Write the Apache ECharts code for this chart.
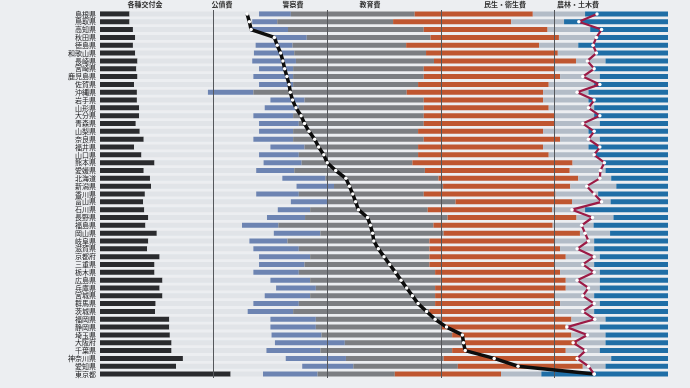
<!DOCTYPE html>
<html><head><meta charset="utf-8">
<script src="https://cdn.jsdelivr.net/npm/echarts@6/dist/echarts.min.js"></script>
<style>html,body{margin:0;padding:0;background:#eceef1;}#c{width:690px;height:388px;}</style>
</head><body><div id="c"></div>
<script>
const prefectures = ["島根県","鳥取県","高知県","秋田県","徳島県","和歌山県","長崎県","宮崎県","鹿児島県","佐賀県","沖縄県","岩手県","山形県","大分県","青森県","山梨県","奈良県","福井県","山口県","熊本県","愛媛県","北海道","新潟県","香川県","富山県","石川県","長野県","福島県","岡山県","岐阜県","滋賀県","京都府","三重県","栃木県","広島県","兵庫県","宮城県","群馬県","茨城県","福岡県","静岡県","埼玉県","大阪府","千葉県","神奈川県","愛知県","東京都"];
const headers = ["各種交付金","公債費","警察費","教育費","民生・衛生費","農林・土木費"];
const kofukin  = [5.2,5.2,5.8,6.2,5.8,6.2,6.6,6.4,6.6,6,6.5,6.5,6.9,6.9,6.3,7,7.7,6,7.3,9.6,7.7,8.8,9,7.9,7.6,7.8,8.5,8,10,8.5,8.3,10.5,9.6,9.6,11,10.5,11,9.8,9.7,12.2,12.2,12.3,12.6,12.6,14.6,13.4,23];
const kosaihi  = [22.8,21.6,20.7,24.5,21.6,20.9,20.2,21.6,20.4,22,12.5,23.5,22.1,20.1,21.7,21,19.3,24,20.7,19.2,19.8,23.3,25.6,19.6,26,23.5,20.9,17,20.6,17.8,18.7,17.5,18.4,17.4,19,20.5,18,17.2,16.3,17.8,17.8,17.9,18.2,16.7,18.1,22.2,5.7];
const keisatsu = [5.6,4.4,6.6,5.7,6.5,7.1,7.7,6,7,6,8,6,6,7,7,6,7,6,7,6.7,6.7,7.6,6.6,7.5,6.4,5.7,6.7,6.4,8.2,6.7,8,9,8,8,7,7,8,8,8,8,8,8.8,12.3,9.5,10.6,9,9.6];
const kyoiku   = [21.8,20.4,23.9,21.8,20,23.2,24.3,23,23,22,27,21,22,23,22,22,23,20,21,19.5,23,19.9,19.2,22,22.6,20.7,25.1,27.3,21.7,25,23,21,22,24,23,21,22,24,24,22,22,23,20.9,23.2,17.2,18.4,13.6];
const minsei   = [20.8,20.8,21.8,22.6,23.4,23.2,25,23,24,23,24,21,22,23,23,22,24,22,23,28.2,25.5,24.6,22.4,23.2,20.5,21.9,22.7,21,24,22,23,24,22,22,22,23,21,22,22,23,22,21,20,20,23.5,22,18.7];
const doboku   = [9.2,9.3,7.5,6.6,6.9,6.8,5.2,7,7,8,8,8,8,7,8,8,7,8,8,5.4,6.3,5.8,8.1,7.5,6.8,5.8,6.5,7.2,5.3,7,6,6,7,7,6,6,7,7,7,6,6,6,5,6,6,4,7.1];
const sonota   = [14.6,18.3,13.7,12.6,15.8,12.6,11,13,12,13,14,14,13,13,12,14,12,14,13,11.4,11,10,9.1,12.3,10.1,14.6,9.6,13.1,10.2,13,13,12,13,12,12,12,13,12,13,11,12,11,11,12,10,11,22.3];
const lineBlack = [25.9,26.3,26.6,30.7,31.2,31.8,32.2,32.5,32.9,33.3,33.5,33.9,34.5,35.4,36,36.8,37.8,38.5,39.4,40,41.5,43.3,43.9,44.5,45,45.5,47.1,47.6,48,48.2,49,50,51,52,53,54,55,56,57.5,59,61,63.8,64,64.3,69.4,73.6,87];
const lineRed   = [87.5,84.3,88.3,87.4,86.8,87.4,85.8,87,85,88,84,87,86,88,85,87,86,88,87,88.8,88.1,88,85.7,87,88.3,83.1,86.7,84.8,85.4,86,84,87,85,87,84,86,85,87,85,87.1,82.2,85.8,83.3,85.5,84,86,87];
const gridTicks = [20,40,60,80];

const chart = echarts.init(document.getElementById('c'), null, {renderer:'canvas'});
const segs = [
  [headers[0], kofukin,  '#2a2b2e'],
  [headers[1], kosaihi,  '#e1e4e8'],
  [headers[2], keisatsu, '#6d84b2'],
  [headers[3], kyoiku,   '#7c7e82'],
  [headers[4], minsei,   '#bf5630'],
  [headers[5], doboku,   '#b3bcc7'],
  ['その他',   sonota,   '#1f6ea6']
];
const series = segs.map((s,i)=>({
  name:s[0], type:'bar', stack:'t', data:s[1], barWidth:5,
  itemStyle:{color:s[2]}, silent:true, animation:false,
  markLine: i===6 ? {silent:true, symbol:'none', label:{show:false},
    lineStyle:{color:'#55575b', width:1, type:'solid'},
    data: gridTicks.map(v=>({xAxis:v}))} : undefined
}));
series.push({type:'line', data:lineBlack, z:10, animation:false,
  lineStyle:{color:'#0d0d0d', width:3.5}, symbol:'circle', symbolSize:3.5,
  itemStyle:{color:'#ffffff', borderWidth:0}, showAllSymbol:true});
series.push({type:'line', data:lineRed, z:11, animation:false,
  lineStyle:{color:'#9c1a45', width:2.2}, symbol:'circle', symbolSize:3.5,
  itemStyle:{color:'#ffffff', borderWidth:0}, showAllSymbol:true});

const hx = [145, 222, 293, 370, 505, 578];
chart.setOption({
  backgroundColor:'#eceef1',
  animation:false,
  grid:{left:100, right:22, top:10, bottom:10},
  xAxis:{type:'value', min:0, max:100, show:false},
  yAxis:{type:'category', data:prefectures, inverse:true,
    axisLine:{show:false}, axisTick:{show:false},
    axisLabel:{fontSize:7, color:'#1c1c1e', fontWeight:'normal', margin:4, lineHeight:8,
      fontFamily:'"Noto Sans CJK JP", sans-serif', interval:0}},
  graphic: headers.map((h,i)=>({type:'text', left:hx[i]-h.length*3.5, top:1,
    style:{text:h, fontSize:7, fontWeight:'bold', fill:'#333',
      fontFamily:'"Noto Sans CJK JP", sans-serif'}})),
  series
});
</script></body></html>
